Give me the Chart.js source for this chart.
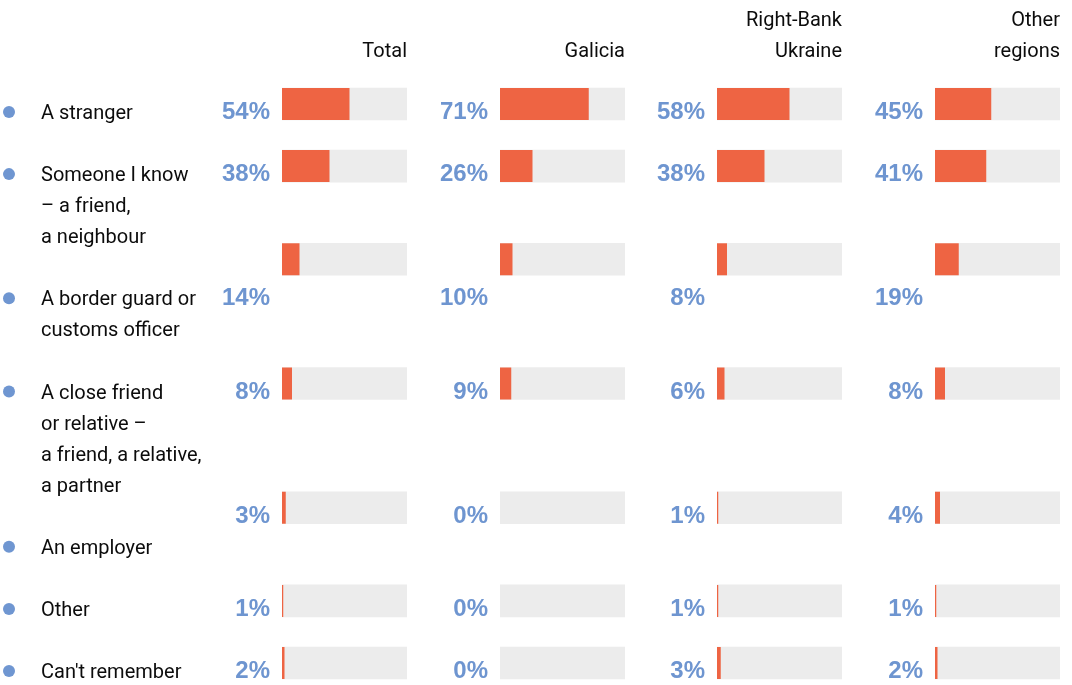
<!DOCTYPE html>
<html>
<head>
<meta charset="utf-8">
<script src="https://cdn.jsdelivr.net/npm/chart.js@4"></script>
<style>
  body { margin: 0; background: #fff; }
  #wrap { position: relative; width: 1072px; height: 685px; overflow: hidden; }
  #wrap canvas { position: absolute; top: 0; }
</style>
</head>
<body>
<div id="wrap">
  <canvas id="c0" width="407" height="685" style="left:0"></canvas>
  <canvas id="c1" width="225" height="685" style="left:400px"></canvas>
  <canvas id="c2" width="225" height="685" style="left:617px"></canvas>
  <canvas id="c3" width="225" height="685" style="left:835px"></canvas>
</div>
<script>
// answers, one line per row of text
const categories = [
    ["A stranger"],
    ["Someone I know", "\u2013 a friend,", "a neighbour"],
    ["A border guard or", "customs officer"],
    ["A close friend", "or relative \u2013", "a friend, a relative,", "a partner"],
    ["An employer"],
    ["Other"],
    ["Can't remember"]
];
const regions = [["Total"], ["Galicia"], ["Right-Bank", "Ukraine"], ["Other", "regions"]];

const total = [54, 38, 14, 8, 3, 1, 2];
const galicia = [71, 26, 10, 9, 0, 0, 0];
const rightBank = [58, 38, 8, 6, 1, 1, 3];
const otherRegions = [45, 41, 19, 8, 4, 1, 2];
const series = [total, galicia, rightBank, otherRegions];

// layout: line slots (one slot = one text line) where each row sits
const barSlot = [0, 2, 5, 9, 13, 16, 18];
const pctSlot = [0, 2, 6, 9, 13, 16, 18];
const labelSlot = [0, 2, 6, 9, 14, 16, 18];

const orange = '#ee6443';
const grey = '#ececec';
const blue = '#6e95d0';
const ink = '#0c0c0c';

const textPlugin = {
    id: 'texts',
    afterDatasetsDraw(chart, args, opts) {
        const c = chart.ctx;
        const y = chart.scales.y;
        const area = chart.chartArea;
        c.save();
        c.textBaseline = 'alphabetic';

        // header
        c.font = '20px Roboto';
        c.fillStyle = ink;
        c.textAlign = 'right';
        const head = regions[opts.col];
        head.forEach((line, i) => {
            c.fillText(line, area.right, y.getPixelForValue(-2 - (head.length - 1 - i)) + 15);
        });

        // percentages
        c.font = 'bold 24px "Liberation Sans"';
        c.fillStyle = blue;
        series[opts.col].forEach((v, i) => {
            c.fillText(v + '%', area.left - 12, y.getPixelForValue(pctSlot[i]) + 15);
        });

        // row labels only on the first chart
        if (opts.col === 0) {
            c.textAlign = 'left';
            categories.forEach((lines, i) => {
                const yc = y.getPixelForValue(labelSlot[i]);
                c.fillStyle = '#6f96d1';
                c.beginPath();
                c.arc(9, yc + 8, 6, 0, Math.PI * 2);
                c.fill();
                c.fillStyle = ink;
                c.font = '20px Roboto';
                lines.forEach((line, j) => {
                    c.fillText(line, 41, y.getPixelForValue(labelSlot[i] + j) + 15);
                });
            });
        }
        c.restore();
    }
};

function drawColumn(id, col, leftPad) {
    return new Chart(document.getElementById(id), {
        type: 'bar',
        data: {
            datasets: [
                {
                    data: series[col].map((v, i) => ({x: v, y: barSlot[i]})),
                    backgroundColor: orange,
                    inflateAmount: 0,
                    order: 0,
                },
                {
                    data: barSlot.map((s) => ({x: 100, y: s})),
                    backgroundColor: grey,
                    order: 1,
                }
            ]
        },
        options: {
            indexAxis: 'y',
            responsive: false,
            animation: false,
            devicePixelRatio: 1,
            layout: { padding: { left: leftPad, right: 0, top: 0, bottom: 0 } },
            datasets: { bar: { barThickness: 32, grouped: false, borderWidth: 0 } },
            scales: {
                x: { type: 'linear', min: 0, max: 100, display: false },
                y: { type: 'linear', min: -3.349, max: 18.708, reverse: true, offset: false, display: false }
            },
            plugins: {
                legend: { display: false },
                tooltip: { enabled: false },
                texts: { col: col }
            }
        },
        plugins: [textPlugin]
    });
}

drawColumn('c0', 0, 282);
drawColumn('c1', 1, 100);
drawColumn('c2', 2, 100);
drawColumn('c3', 3, 100);
</script>
</body>
</html>
